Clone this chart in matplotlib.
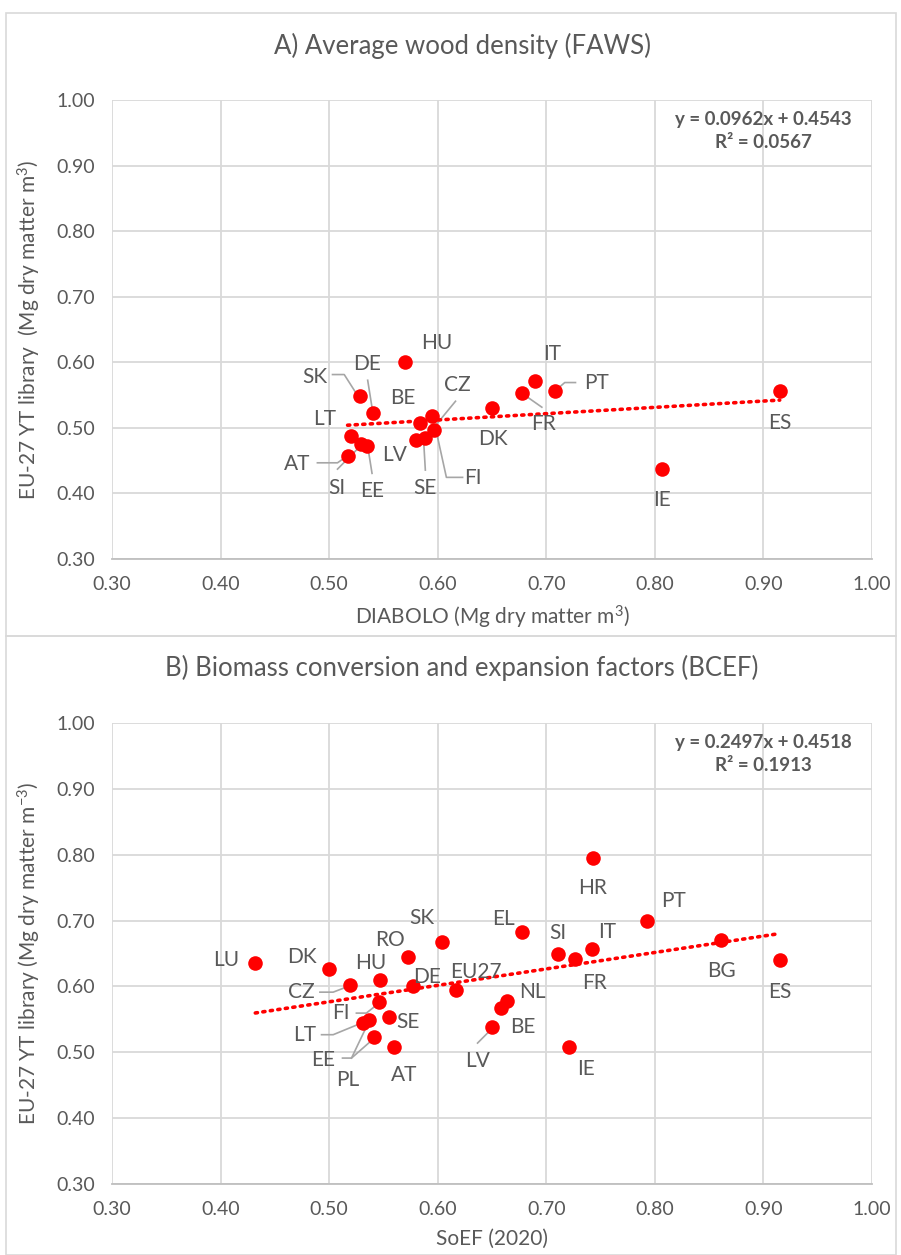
import matplotlib
matplotlib.use("Agg")
import matplotlib.pyplot as plt
from matplotlib.patches import Rectangle

plt.rcParams['font.family'] = ['Lato', 'DejaVu Sans']
plt.rcParams['mathtext.fontset'] = 'custom'
plt.rcParams['mathtext.rm'] = 'Lato'
plt.rcParams['mathtext.it'] = 'Lato'
plt.rcParams['mathtext.default'] = 'regular'

# ---------------- Data ----------------
# Panel A: average wood density
a_countries = ["HU", "SK", "DE", "BE", "LT", "CZ", "FI", "LV", "SE", "AT", "SI", "EE",
               "DK", "IT", "FR", "PT", "ES", "IE"]
a_diabolo = [0.570, 0.528, 0.540, 0.584, 0.520, 0.595, 0.597, 0.580, 0.588, 0.517, 0.529, 0.535,
             0.650, 0.690, 0.678, 0.708, 0.915, 0.807]
a_yt = [0.600, 0.548, 0.523, 0.508, 0.487, 0.518, 0.497, 0.481, 0.484, 0.457, 0.475, 0.472,
        0.530, 0.572, 0.553, 0.556, 0.556, 0.438]
a_slope, a_intercept, a_r2 = 0.0962, 0.4543, 0.0567

# Panel B: BCEF
b_countries = ["LU", "DK", "CZ", "HU", "RO", "SK", "DE", "EU27", "FI", "SE", "LT", "EE", "PL",
               "AT", "LV", "BE", "NL", "EL", "SI", "FR", "IT", "HR", "PT", "BG", "ES", "IE"]
b_soef = [0.432, 0.500, 0.519, 0.547, 0.573, 0.604, 0.577, 0.617, 0.546, 0.555, 0.531, 0.537, 0.541,
          0.560, 0.650, 0.658, 0.664, 0.678, 0.711, 0.726, 0.742, 0.743, 0.793, 0.861, 0.915, 0.721]
b_yt = [0.635, 0.626, 0.602, 0.610, 0.644, 0.667, 0.601, 0.595, 0.577, 0.554, 0.544, 0.549, 0.523,
        0.508, 0.538, 0.567, 0.578, 0.682, 0.650, 0.642, 0.657, 0.795, 0.700, 0.671, 0.640, 0.508]
b_slope, b_intercept, b_r2 = 0.2497, 0.4518, 0.1913

# ---------------- Layout (label positions, leader paths) ----------------
a_label_pos = {
    "HU": (0.599, 0.629), "SK": (0.487, 0.578), "DE": (0.5345, 0.598), "BE": (0.568, 0.545),
    "LT": (0.496, 0.513), "CZ": (0.618, 0.566), "DK": (0.651, 0.483), "AT": (0.4706, 0.445),
    "SI": (0.507, 0.409), "EE": (0.5395, 0.404), "LV": (0.560, 0.458), "SE": (0.5886, 0.408),
    "FI": (0.632, 0.424), "IT": (0.705, 0.612), "PT": (0.746, 0.5685), "FR": (0.6975, 0.5056),
    "ES": (0.915, 0.5067), "IE": (0.807, 0.390),
}
a_leaders = [
    [(0.5031, 0.5813), (0.5139, 0.5813), (0.5241, 0.5548)],
    [(0.5355, 0.5726), (0.5395, 0.531)],
    [(0.6164, 0.5406), (0.5988, 0.5052)],
    [(0.4892, 0.4467), (0.5077, 0.4467), (0.5148, 0.4549)],
    [(0.5077, 0.4371), (0.5287, 0.4721)],
    [(0.5395, 0.4306), (0.5355, 0.4721)],
    [(0.5886, 0.4356), (0.587, 0.4813)],
    [(0.6229, 0.4245), (0.608, 0.4245), (0.5981, 0.4991)],
    [(0.7269, 0.5691), (0.7170, 0.5691), (0.7089, 0.5575)],
    [(0.6959, 0.5315), (0.6806, 0.5493)],
]
b_label_pos = {
    "LU": (0.405, 0.640), "DK": (0.4747, 0.644), "CZ": (0.474, 0.591), "HU": (0.538, 0.635),
    "RO": (0.5557, 0.670), "SK": (0.5857, 0.7037), "DE": (0.590, 0.615), "EU27": (0.635, 0.622),
    "EL": (0.661, 0.703), "FI": (0.511, 0.5595), "SE": (0.5725, 0.5458), "LT": (0.477, 0.5267),
    "EE": (0.4945, 0.4888), "PL": (0.5174, 0.4584), "AT": (0.5695, 0.466), "LV": (0.6367, 0.4862),
    "NL": (0.687, 0.591), "BE": (0.678, 0.539), "HR": (0.743, 0.749), "PT": (0.8176, 0.730),
    "SI": (0.7107, 0.681), "IT": (0.7556, 0.683), "FR": (0.744, 0.605), "BG": (0.861, 0.623),
    "ES": (0.915, 0.591), "IE": (0.737, 0.474),
}
b_leaders = [
    [(0.4915, 0.5913), (0.5037, 0.5913), (0.5174, 0.600)],
    [(0.5251, 0.5595), (0.5343, 0.5595), (0.5459, 0.5747)],
    [(0.493, 0.5267), (0.5037, 0.5267), (0.5297, 0.5443)],
    [(0.5123, 0.4912), (0.5206, 0.4912), (0.5367, 0.5469)],
    [(0.5206, 0.4912), (0.5413, 0.5211)],
    [(0.6367, 0.514), (0.6474, 0.5317)],
]

GREY = "#595959"
GRID = "#d9d9d9"
RED = "#ff0000"
ticks = [0.30, 0.40, 0.50, 0.60, 0.70, 0.80, 0.90, 1.00]

W, H = 901, 1255
fig = plt.figure(figsize=(W / 100, H / 100), dpi=100)


def px_axes(left, top, right, bottom):
    return fig.add_axes([left / W, 1 - bottom / H, (right - left) / W, (bottom - top) / H])


def draw_panel(ax, xs, ys, names, slope, intercept, r2, label_pos, leaders, xlabel, ylabel):
    ax.set_xlim(0.30, 1.00)
    ax.set_ylim(0.30, 1.00)
    ax.set_xticks(ticks)
    ax.set_yticks(ticks)
    ax.set_xticklabels([f"{t:.2f}" for t in ticks])
    ax.set_yticklabels([f"{t:.2f}" for t in ticks])
    ax.tick_params(length=0, labelsize=14, colors=GREY, pad=12)
    ax.grid(True, color=GRID, lw=1.3)
    ax.set_axisbelow(True)
    for s in ["top", "right", "left"]:
        ax.spines[s].set_visible(False)
    ax.spines["bottom"].set_color("#bfbfbf")
    ax.spines["bottom"].set_linewidth(1.3)
    # trendline
    xmin, xmax = min(xs), max(xs)
    ax.plot([xmin, xmax], [slope * xmin + intercept, slope * xmax + intercept],
            color=RED, lw=2.6, linestyle=(0, (0.6, 1.5)), dash_capstyle="round", zorder=3)
    ax.scatter(xs, ys, s=110, color=RED, zorder=4, linewidths=0)
    for path in leaders:
        ax.plot([p[0] for p in path], [p[1] for p in path], color="#a6a6a6", lw=1.2, zorder=2)
    for n in names:
        lx, ly = label_pos[n]
        ax.text(lx, ly, n, ha="center", va="center", fontsize=15, color=GREY, zorder=5)
    ax.text(0.90, 0.971, f"y = {slope:.4f}x + {intercept:.4f}", ha="center", va="center",
            fontsize=13.5, fontweight="bold", color=GREY)
    ax.text(0.90, 0.935, f"R² = {r2:.4f}", ha="center", va="center",
            fontsize=13.5, fontweight="bold", color=GREY)
    ax.set_xlabel(xlabel, fontsize=15, color=GREY, labelpad=8)
    ax.set_ylabel(ylabel, fontsize=15, color=GREY, labelpad=10)


# panel borders
fig.add_artist(Rectangle((6 / W, 1 - 636 / H), 890 / W, 623 / H, transform=fig.transFigure,
                         fill=False, edgecolor=GRID, lw=1.2))
fig.add_artist(Rectangle((6 / W, 0.0), 890 / W, 1 - 636 / H, transform=fig.transFigure,
                         fill=False, edgecolor=GRID, lw=1.2))

axA = px_axes(112, 100, 872, 559)
draw_panel(axA, a_diabolo, a_yt, a_countries, a_slope, a_intercept, a_r2, a_label_pos, a_leaders,
           "DIABOLO (Mg dry matter m$^{3}$)", "EU-27 YT library  (Mg dry matter m$^{3}$)")
fig.text(462 / W, 1 - 46 / H, "A) Average wood density (FAWS)", ha="center", va="center",
         fontsize=18.5, color=GREY)

axB = px_axes(112, 723, 872, 1184)
draw_panel(axB, b_soef, b_yt, b_countries, b_slope, b_intercept, b_r2, b_label_pos, b_leaders,
           "SoEF (2020)", "EU-27 YT library (Mg dry matter m$^{-3}$)")
fig.text(462 / W, 1 - 668 / H, "B) Biomass conversion and expansion factors (BCEF)", ha="center",
         va="center", fontsize=18.5, color=GREY)

fig.savefig("out.png", dpi=100)
